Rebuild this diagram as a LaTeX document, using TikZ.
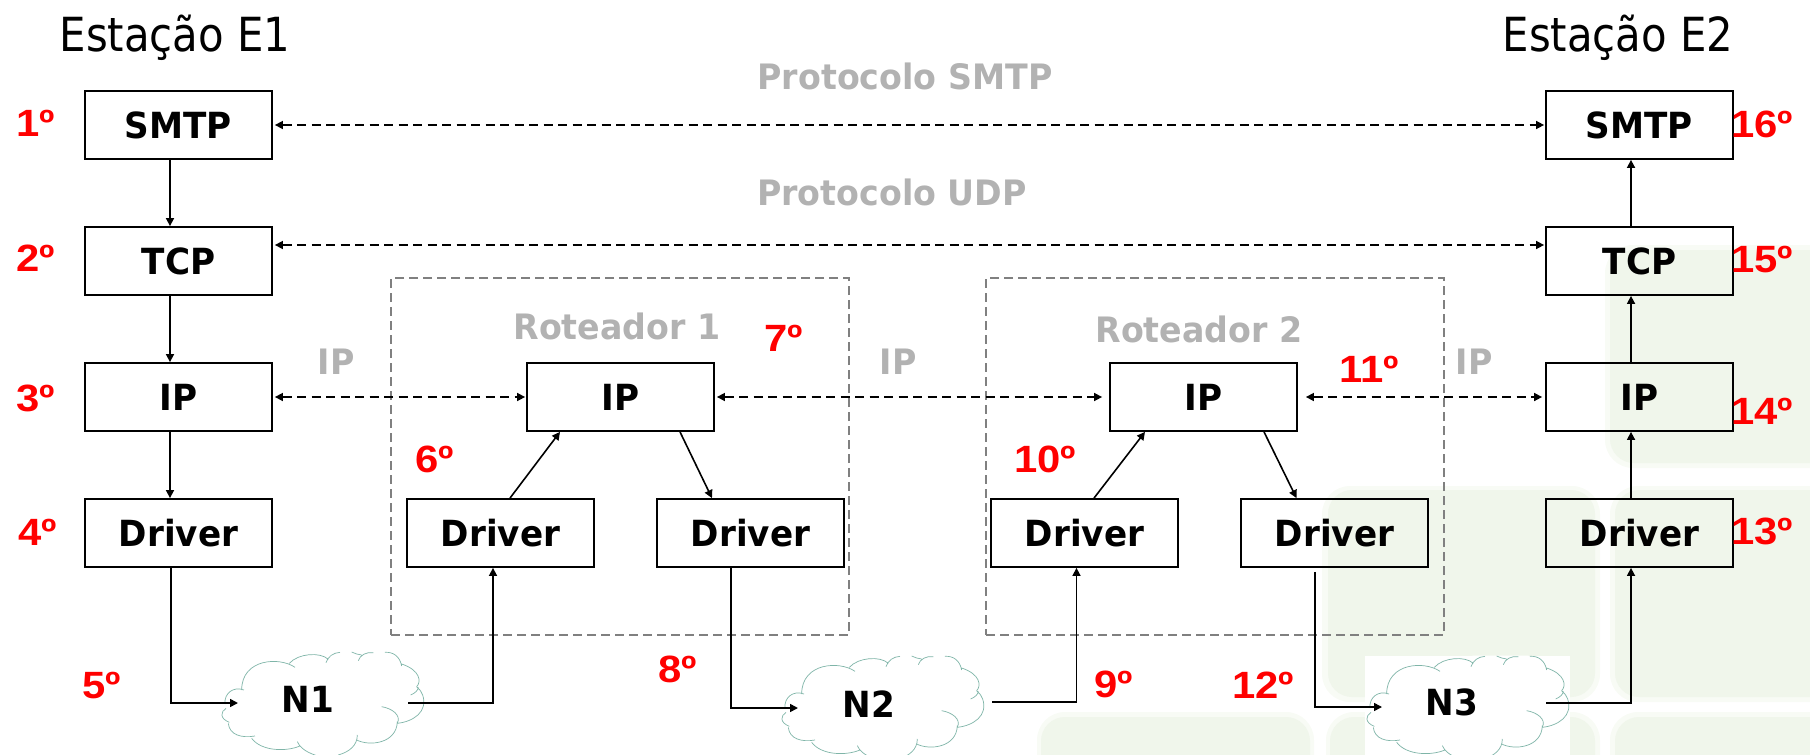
\documentclass[tikz,border=0pt]{standalone}
\usepackage{fontspec}
\setmainfont{DejaVu Sans}
\newfontfamily\condb[FakeStretch=0.95]{DejaVu Sans Bold}
\newfontfamily\condr[FakeStretch=0.89]{DejaVu Sans}
\newfontfamily\stepfont[FakeStretch=1.1]{Liberation Sans Bold}
\usetikzlibrary{arrows.meta,calc}
\definecolor{panelgreen}{HTML}{F0F6EB}
\definecolor{panelsoft}{HTML}{F8FBF5}
\definecolor{cloudline}{HTML}{7FB5A8}
\definecolor{labelgrey}{HTML}{B2B2B2}
\definecolor{routergrey}{HTML}{808080}
\tikzset{
  layerbox/.style={draw=black,line width=1.8pt,fill=none,minimum width=187pt,minimum height=68pt,inner sep=0pt,font=\condb\fontsize{36}{36}\selectfont},
  panel/.style={fill=panelgreen,rounded corners=24pt},
  panelhalo/.style={fill=panelsoft,rounded corners=28pt},
  stepnum/.style={text=red,font=\stepfont\fontsize{38}{38}\selectfont,inner sep=0pt},
  greylabel/.style={text=labelgrey,font=\condb\fontsize{35}{35}\selectfont,inner sep=0pt},
  titlelabel/.style={font=\condr\fontsize{47}{47}\selectfont,inner sep=0pt},
  routerbox/.style={draw=routergrey,line width=1.6pt,dash pattern=on 9pt off 5pt},
  flow/.style={draw=black,line width=1.6pt,-{Triangle[length=8pt,width=8pt]}},
  peer/.style={draw=black,line width=1.6pt,dash pattern=on 9pt off 5.5pt,{Triangle[length=8pt,width=8pt]}-{Triangle[length=8pt,width=8pt]}},
  netlabel/.style={font=\condb\fontsize{36}{36}\selectfont,inner sep=0pt},
  cloudfill/.style={fill=white},
  cloudstroke/.style={draw=cloudline,line width=0.7pt},
}
\newcommand{\cloudat}[2]{%
\begin{scope}[shift={(#1,#2)},x=0.3333pt,y=-0.3333pt]
 \path[cloudfill] (78,205) -- (63,225) -- (88,245) -- (100,285) -- (165,290) -- (230,330) -- (300,320) -- (330,345) -- (410,345) -- (470,300) -- (570,310) -- (592,250) -- (660,240) -- (672,190) -- (655,130) -- (605,70) -- (550,35) -- (475,35) -- (385,35) -- (270,60) -- (130,80) -- (125,145) -- (75,190) -- cycle;
 \path[cloudstroke]
  (78,205) .. controls (62,215) and (58,235) .. (88,247)
  (85,250) .. controls (88,285) and (125,295) .. (165,288)
  (155,295) .. controls (185,335) and (260,335) .. (300,318)
  (292,305) .. controls (305,335) and (345,345) .. (360,350)
  (415,345) .. controls (450,335) and (472,315) .. (472,285)
  (470,300) .. controls (510,320) and (590,310) .. (592,245)
  (545,200) .. controls (575,205) and (605,225) .. (592,250)
  (592,250) .. controls (640,245) and (685,215) .. (668,165) .. controls (665,155) and (660,150) .. (650,140)
  (632,165) .. controls (645,160) and (655,150) .. (655,142)
  (650,140) .. controls (665,125) and (660,90) .. (605,72)
  (605,78) .. controls (600,50) and (580,35) .. (555,37)
  (520,38) .. controls (500,35) and (480,45) .. (475,62)
  (485,45) .. controls (475,45) and (465,40) .. (455,36)
  (420,37) .. controls (400,38) and (383,50) .. (378,68)
  (385,58) .. controls (360,35) and (295,40) .. (268,70)
  (285,82) .. controls (240,50) and (125,55) .. (125,150)
  (132,150) .. controls (100,138) and (72,160) .. (75,192);
\end{scope}}
\begin{document}
\begin{tikzpicture}[x=1pt,y=-1pt]
\useasboundingbox (0,0) rectangle (1810,755);
% background panels
\begin{scope}
 \fill[panelhalo] (1605,245) rectangle (1860,468);
 \fill[panelhalo] (1322,486) rectangle (1600,702);
 \fill[panelhalo] (1610,486) rectangle (1860,702);
 \fill[panelhalo] (1037,712) rectangle (1314,800);
 \fill[panelhalo] (1326,712) rectangle (1600,800);
 \fill[panelhalo] (1610,712) rectangle (1860,800);
 \fill[panel] (1610,250) rectangle (1860,463);
 \fill[panel] (1328,490) rectangle (1595,697);
 \fill[panel] (1615,490) rectangle (1860,697);
 \fill[panel] (1041,717) rectangle (1310,800);
 \fill[panel] (1330,717) rectangle (1595,800);
 \fill[panel] (1615,717) rectangle (1860,800);
\end{scope}
\fill[white] (1365,656) rectangle (1570,755);
% router frames
\node[routerbox,inner sep=0pt,minimum width=458pt,minimum height=357pt] (R1) at (620,456.5) {};
\node[routerbox,inner sep=0pt,minimum width=458pt,minimum height=357pt] (R2) at (1215,456.5) {};
% boxes
\node[layerbox] (S1) at (178.5,125) {SMTP};
\node[layerbox] (T1) at (178.5,261) {TCP};
\node[layerbox] (I1) at (178.5,397) {IP};
\node[layerbox] (D1) at (178.5,533) {Driver};
\node[layerbox] (IR1) at (620.5,397) {IP};
\node[layerbox] (DA1) at (500.5,533) {Driver};
\node[layerbox] (DB1) at (750.5,533) {Driver};
\node[layerbox] (IR2) at (1203.5,397) {IP};
\node[layerbox] (DA2) at (1084.5,533) {Driver};
\node[layerbox] (DB2) at (1334.5,533) {Driver};
\node[layerbox] (S2) at (1639.5,125) {SMTP};
\node[layerbox] (T2) at (1639.5,261) {TCP};
\node[layerbox] (I2) at (1639.5,397) {IP};
\node[layerbox] (D2) at (1639.5,533) {Driver};
% clouds
\cloudat{200}{640}
\cloudat{760}{644}
\cloudat{1345}{644}
\node[netlabel] (N1) at (308,699) {N1};
\node[netlabel] (N2) at (869,704) {N2};
\node[netlabel] (N3) at (1452,702) {N3};
\coordinate (N1in) at (238,703);
\coordinate (N1out) at (408,703);
\coordinate (N2in) at (798,708);
\coordinate (N2out) at (992,702);
\coordinate (N3in) at (1382,707);
\coordinate (N3out) at (1546,703);
% peers
\draw[peer] ([xshift=2pt]S1.east) -- ([xshift=-1pt]S2.west);
\draw[peer] ([yshift=16pt,xshift=2pt]T1.east) -- ([yshift=16pt,xshift=-1pt]T2.west);
\draw[peer] ([xshift=2pt]I1.east) -- ([xshift=-1pt]IR1.west);
\draw[peer] ([xshift=2pt]IR1.east) -- ([xshift=-7pt]IR2.west);
\draw[peer] ([xshift=8pt]IR2.east) -- ([xshift=-3pt]I2.west);
% stack flows
\draw[flow] ([xshift=-8.5pt]S1.south) -- ([xshift=-8.5pt]T1.north);
\draw[flow] ([xshift=-8.5pt]T1.south) -- ([xshift=-8.5pt]I1.north);
\draw[flow] ([xshift=-8.5pt]I1.south) -- ([xshift=-8.5pt]D1.north);
\draw[flow] ([xshift=-8.5pt]T2.north) -- ([xshift=-8.5pt]S2.south);
\draw[flow] ([xshift=-8.5pt]I2.north) -- ([xshift=-8.5pt]T2.south);
\draw[flow] ([xshift=-8.5pt]D2.north) -- ([xshift=-8.5pt]I2.south);
% router flows
\draw[flow] ([xshift=9.5pt]DA1.north) -- ([xshift=-60.5pt]IR1.south);
\draw[flow] ([xshift=59.5pt]IR1.south) -- ([xshift=-38.5pt]DB1.north);
\draw[flow] ([xshift=9.5pt]DA2.north) -- ([xshift=-58.5pt]IR2.south);
\draw[flow] ([xshift=60.5pt]IR2.south) -- ([xshift=-38pt]DB2.north);
% network flows
\draw[flow] ([xshift=-7.5pt]D1.south) |- (N1in);
\draw[flow] (N1out) -| ([xshift=-7.5pt]DA1.south);
\draw[flow] ([xshift=-19.5pt]DB1.south) |- (N2in);
\draw[flow] (N2out) -| ([xshift=-8pt]DA2.south);
\draw[flow] ([xshift=-19.5pt,yshift=-4pt]DB2.south) |- (N3in);
\draw[flow] (N3out) -| ([xshift=-8.5pt]D2.south);
% titles
\node[titlelabel] (E1) at (175,37.5) {Estação E1};
\node[titlelabel] (E2) at (1618,37.5) {Estação E2};
% grey labels
\node[greylabel] (PS) at (905,76) {Protocolo SMTP};
\node[greylabel] (PU) at (892,192) {Protocolo UDP};
\node[greylabel] (RL1) at (617,326) {Roteador 1};
\node[greylabel] (RL2) at (1199,329) {Roteador 2};
\node[greylabel] (IPa) at (336,362) {IP};
\node[greylabel] (IPb) at (898,362) {IP};
\node[greylabel] (IPc) at (1474,362) {IP};
% step numbers
\node[stepnum] (n1) at (35.5,123) {1º};
\node[stepnum] (n2) at (35.5,258) {2º};
\node[stepnum] (n3) at (36,398) {3º};
\node[stepnum] (n4) at (38,532) {4º};
\node[stepnum] (n5) at (102,686) {5º};
\node[stepnum] (n6) at (435,459) {6º};
\node[stepnum] (n7) at (784,338) {7º};
\node[stepnum] (n8) at (678,669) {8º};
\node[stepnum] (n9) at (1114,684) {9º};
\node[stepnum] (n10) at (1045,459) {10º};
\node[stepnum] (n11) at (1369,369) {11º};
\node[stepnum] (n12) at (1263,685) {12º};
\node[stepnum] (n13) at (1762,531) {13º};
\node[stepnum] (n14) at (1762,411) {14º};
\node[stepnum] (n15) at (1762,260) {15º};
\node[stepnum] (n16) at (1762,124) {16º};
\end{tikzpicture}
\end{document}
